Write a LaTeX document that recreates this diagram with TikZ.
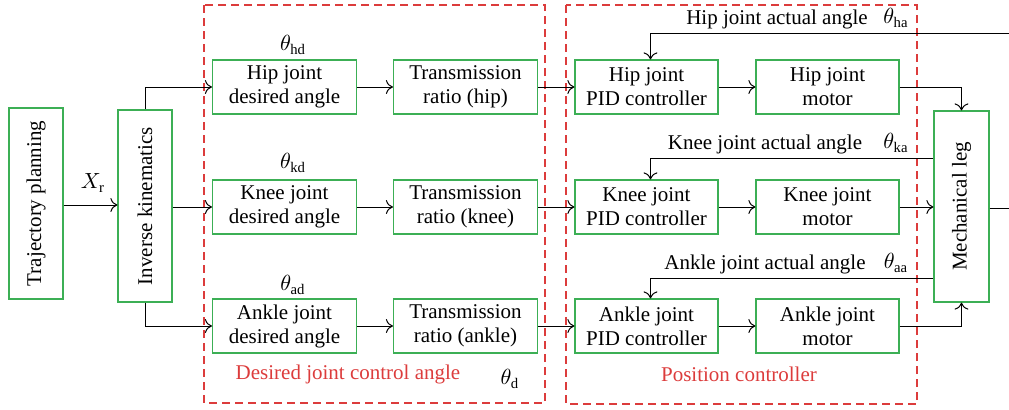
\documentclass[tikz,border=0pt]{standalone}
\usepackage{fontspec}
\setmainfont{Liberation Serif}
\usetikzlibrary{arrows.meta}
\definecolor{boxgreen}{RGB}{60,175,85}
\definecolor{dashred}{RGB}{220,60,60}
\tikzset{
  blk/.style={draw=boxgreen,line width=0.6pt,inner sep=0pt,minimum width=72pt,minimum height=27pt,align=center,
    font=\fontsize{10.5}{12}\selectfont},
  vblk/.style={blk,minimum width=27pt,minimum height=95.5pt},
  link/.style={line width=0.5pt,-{To[length=3.5pt,width=7pt]}},
  grp/.style={draw=dashred,line width=0.55pt,dash pattern=on 4pt off 2.5pt},
  lbl/.style={font=\fontsize{10.5}{12}\selectfont,inner sep=1pt}
}
\begin{document}
\begin{tikzpicture}[x=0.5pt,y=-0.5pt]
            \useasboundingbox (0,0) rectangle (1009,409);
            % dashed groups
            \draw [grp] (204,5) rectangle (545,403);
            \draw [grp] (566,5) rectangle (917,404);
            % left part
            \node [vblk] (traj) at (36,203.5) {\rotatebox{90}{Trajectory planning}};
            \node [vblk,minimum height=96pt] (ik) at (145,206) {\rotatebox{90}{Inverse kinematics}};
            \node [blk] (hipdes) at (284.5,87) {Hip joint\\desired angle};
            \node [blk] (kneedes) at (284.5,207) {Knee joint\\desired angle};
            \node [blk] (ankdes) at (284.5,326) {Ankle joint\\desired angle};
            \node [blk] (hiptr) at (465.5,87) {Transmission\\ratio (hip)};
            \node [blk] (kneetr) at (465.5,207) {Transmission\\ratio (knee)};
            \node [blk] (anktr) at (465.5,326) {Transmission\\ratio (ankle)};
            % right part
            \node [blk,minimum width=71.5pt] (hippid) at (646.5,87) {Hip joint\\PID controller};
            \node [blk,minimum width=71.5pt] (kneepid) at (646.5,207) {Knee joint\\PID controller};
            \node [blk,minimum width=71.5pt] (ankpid) at (646.5,326) {Ankle joint\\PID controller};
            \node [blk,minimum width=71.5pt] (hipmot) at (827.5,87) {Hip joint\\motor};
            \node [blk,minimum width=71.5pt] (kneemot) at (827.5,207) {Knee joint\\motor};
            \node [blk,minimum width=71.5pt] (ankmot) at (827.5,326) {Ankle joint\\motor};
            \node [vblk,minimum width=27.5pt] (leg) at (961.5,206.5) {\rotatebox{90}{Mechanical leg}};
            \coordinate (hipfb) at (1009,33);
            \coordinate (legout) at (1009,208);
            % connectors
            \draw [link] (traj.east |- 0,205) -- (ik.west |- 0,205);
            \draw [link] (ik.north) |- (hipdes.west);
            \draw [link] (ik.east |- kneedes.west) -- (kneedes.west);
            \draw [link] (ik.south) |- (ankdes.west);
            \draw [link] (hipdes) -- (hiptr);
            \draw [link] (kneedes) -- (kneetr);
            \draw [link] (ankdes) -- (anktr);
            \draw [link] (hiptr) -- (hippid);
            \draw [link] (kneetr) -- (kneepid);
            \draw [link] (anktr) -- (ankpid);
            \draw [link] (hippid) -- (hipmot);
            \draw [link] (kneepid) -- (kneemot);
            \draw [link] (ankpid) -- (ankmot);
            \draw [link] (hipmot.east) -| (leg.north);
            \draw [link] (kneemot.east) -- (leg.west |- kneemot.east);
            \draw [link] (ankmot.east) -| (leg.south);
            \draw [link] (hipfb) -| ([xshift=2pt]hippid.north);
            \draw [link] (leg.west |- 0,158) -| ([xshift=2pt]kneepid.north);
            \draw [link] (leg.west |- 0,278) -| ([xshift=2pt]ankpid.north);
            \draw [line width=0.5pt] (leg.east |- legout) -- (legout);
            % labels
            \node [lbl] (xr) at (93,183) {$X_{\mathrm{r}}$};
            \node [lbl] (thd) at (293,45) {$\theta_{\mathrm{hd}}$};
            \node [lbl] (tkd) at (293,163) {$\theta_{\mathrm{kd}}$};
            \node [lbl] (tad) at (293,285) {$\theta_{\mathrm{ad}}$};
            \node [lbl,text=dashred] (dname) at (348,374) {Desired joint control angle};
            \node [lbl] (td) at (510,379) {$\theta_{\mathrm{d}}$};
            \node [lbl,text=dashred] (pname) at (739,374) {Position controller};
            \node [lbl] (hfl) at (777,19) {Hip joint actual angle};
            \node [lbl] (tha) at (896,18) {$\theta_{\mathrm{ha}}$};
            \node [lbl] (kfl) at (765,144) {Knee joint actual angle};
            \node [lbl] (tka) at (896,143) {$\theta_{\mathrm{ka}}$};
            \node [lbl] (afl) at (765,264) {Ankle joint actual angle};
            \node [lbl] (taa) at (896,263) {$\theta_{\mathrm{aa}}$};
        \end{tikzpicture}
\end{document}
